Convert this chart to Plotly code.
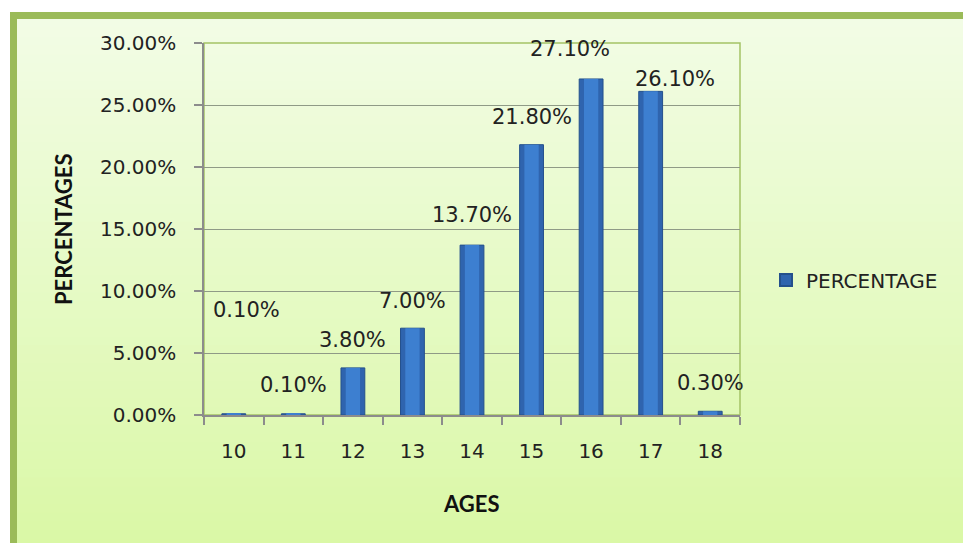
import plotly.graph_objects as go

# ---- data ----
ages = ["10", "11", "12", "13", "14", "15", "16", "17", "18"]
percentages = [0.1, 0.1, 3.8, 7.0, 13.7, 21.8, 27.1, 26.1, 0.3]
series_name = "PERCENTAGE"
y_ticks = [0, 5, 10, 15, 20, 25, 30]
y_tick_text = ["0.00%", "5.00%", "10.00%", "15.00%", "20.00%", "25.00%", "30.00%"]

# label nudges (pixels) so the value labels sit where they read best
label_dx = [13, 0, 0, 0, 0, 0, -21, 24, 0]
label_dy = [90, 15, 14, 13, 16, 14, 16, -2, 14]

# ---- layout geometry ----
W, H = 963, 543
L, R, T, B = 204, 740, 43, 415
pw, ph = R - L, B - T


def px_x(x):
    return (x - L) / pw


def px_y(y):
    return (B - y) / ph


TICK_FONT = dict(family="DejaVu Sans, Verdana, sans-serif", size=20, color="#222222")
LABEL_FONT = dict(family="DejaVu Sans, Verdana, sans-serif", size=21, color="#222222")
LEGEND_FONT = dict(family="DejaVu Sans, Verdana, sans-serif", size=20, color="#222222")
TITLE_FONT = dict(family="Lato, Calibri, sans-serif", size=22, color="#111111")

fig = go.Figure()

# main bars
fig.add_trace(go.Bar(
    x=ages,
    y=percentages,
    name=series_name,
    width=0.4,
    marker=dict(color="#2F64AE", line=dict(color="#24508C", width=1)),
    showlegend=True,
))
# lighter core of each bar for a rounded, shaded look
fig.add_trace(go.Bar(
    x=ages,
    y=percentages,
    name=series_name,
    width=0.24,
    marker=dict(color="#3D7FD0", line=dict(width=0)),
    showlegend=False,
    hoverinfo="skip",
))

# value labels
annotations = []
for i, (v, dx, dy) in enumerate(zip(percentages, label_dx, label_dy)):
    annotations.append(dict(
        x=i, y=v, xref="x", yref="y", text=f"{v:.2f}%", showarrow=False,
        yanchor="bottom", xanchor="center", xshift=dx, yshift=dy,
        font=LABEL_FONT,
    ))

# axis titles
annotations.append(dict(
    x=px_x(63), y=px_y(229), xref="paper", yref="paper", text="<b>PERCENTAGES</b>",
    textangle=-90, showarrow=False, font=TITLE_FONT,
    xanchor="center", yanchor="middle",
))
annotations.append(dict(
    x=px_x(471), y=px_y(503), xref="paper", yref="paper", text="<b>AGES</b>",
    showarrow=False, font=TITLE_FONT, xanchor="center", yanchor="middle",
))

# background: green frame and a soft vertical gradient panel
shapes = [dict(
    type="rect", xref="paper", yref="paper", layer="below",
    x0=px_x(10), x1=px_x(W + 40), y0=px_y(H + 40), y1=px_y(12),
    fillcolor="#9BBB59", line=dict(width=0),
)]
top_c = (242, 252, 229)
bot_c = (218, 248, 166)
n_bands = 60
y_start, y_end = 19, H + 5
for i in range(n_bands):
    f = i / (n_bands - 1)
    c = tuple(round(top_c[k] + (bot_c[k] - top_c[k]) * f) for k in range(3))
    ya = y_start + (y_end - y_start) * i / n_bands
    yb = y_start + (y_end - y_start) * (i + 1) / n_bands + 1
    shapes.append(dict(
        type="rect", xref="paper", yref="paper", layer="below",
        x0=px_x(17), x1=px_x(W + 40), y0=px_y(yb), y1=px_y(ya),
        fillcolor="rgb(%d,%d,%d)" % c, line=dict(width=0),
    ))
# plot-area outline (top/right in green)
shapes.append(dict(
    type="rect", xref="paper", yref="paper", layer="below",
    x0=0, x1=1, y0=0, y1=1, line=dict(color="#A4C266", width=1.5),
    fillcolor="rgba(0,0,0,0)",
))

fig.update_layout(
    width=W, height=H,
    margin=dict(l=L, r=W - R, t=T, b=H - B, autoexpand=False),
    paper_bgcolor="white",
    plot_bgcolor="rgba(0,0,0,0)",
    barmode="overlay",
    shapes=shapes,
    annotations=annotations,
    showlegend=True,
    legend=dict(
        x=px_x(766), y=px_y(280), xanchor="left", yanchor="middle",
        bgcolor="rgba(0,0,0,0)", font=LEGEND_FONT, itemsizing="constant",
    ),
    xaxis=dict(
        type="category", tickson="boundaries", ticks="outside", ticklen=8,
        tickcolor="#8C8C8C", tickwidth=1.5, showline=True, linecolor="#8C8C8C",
        linewidth=1.5, showgrid=False, tickfont=TICK_FONT, ticklabelstandoff=17,
        range=[-0.5, 8.5], fixedrange=True,
    ),
    yaxis=dict(
        range=[0, 30], tickvals=y_ticks, ticktext=y_tick_text, ticks="outside",
        ticklen=8, tickcolor="#8C8C8C", tickwidth=1.5, showline=True,
        linecolor="#8C8C8C", linewidth=1.5, showgrid=True, gridcolor="#8F9A86",
        gridwidth=1, zeroline=False, tickfont=TICK_FONT, ticklabelstandoff=14,
        fixedrange=True,
    ),
)

fig.write_html("out.html")
